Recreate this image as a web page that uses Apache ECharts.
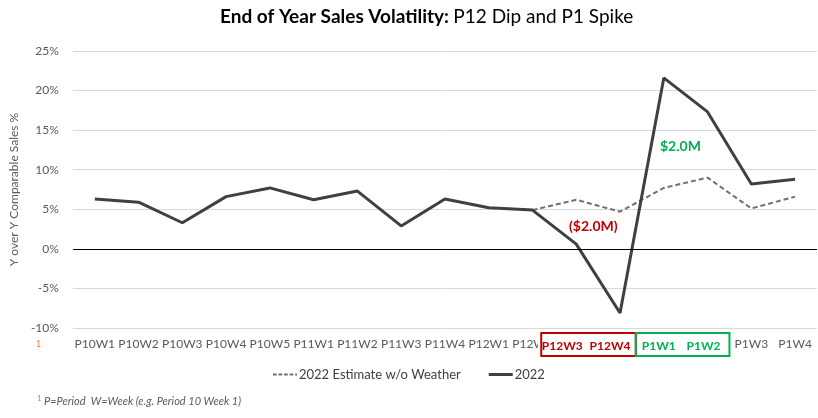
<!DOCTYPE html>
<html><head><meta charset="utf-8">
<script src="https://cdn.jsdelivr.net/npm/echarts@6/dist/echarts.min.js"></script>
<style>html,body{margin:0;padding:0;background:#fff}#c{width:818px;height:418px}</style>
</head><body><div id="c"></div>
<script>
const categories = ['P10W1','P10W2','P10W3','P10W4','P10W5','P11W1','P11W2','P11W3','P11W4','P12W1','P12W2','P12W3','P12W4','P1W1','P1W2','P1W3','P1W4'];
const actual2022 = [6.3, 5.9, 3.3, 6.6, 7.7, 6.2, 7.3, 2.9, 6.3, 5.2, 4.9, 0.6, -8.1, 21.6, 17.3, 8.2, 8.8];
const estimateNoWeather = ['-','-','-','-','-','-','-','-','-','-', 4.9, 6.2, 4.7, 7.7, 9.0, 5.1, 6.6];
const yTicks = {min: -10, max: 25, interval: 5};
const redCats = ['P12W3','P12W4'];
const greenCats = ['P1W1','P1W2'];

const FONT = 'Lato, "Open Sans", sans-serif';
// [left, right] padding per boxed label (shifts the text left like the reference)
const labelPad = {P12W3: [4, 32], P12W4: [1, 21], P1W1: [2, 12], P1W2: [2, 10]};
const richStyles = {};
redCats.concat(greenCats).forEach(function (c) {
  richStyles[c] = {color: redCats.indexOf(c) >= 0 ? '#c00000' : '#00b050', fontWeight: 'bold', fontSize: 12,
    fontFamily: FONT, backgroundColor: '#fff', padding: [2, labelPad[c][1], 2, labelPad[c][0]]};
});

const chart = echarts.init(document.getElementById('c'));
chart.setOption({
  animation: false,
  textStyle: {fontFamily: FONT},
  title: {
    left: 215, top: 2,
    text: '{b|End of Year Sales Volatility:} {n|P12 Dip and P1 Spike}',
    textStyle: {rich: {
      b: {fontFamily: FONT, fontSize: 19, fontWeight: 'bold', color: '#000'},
      n: {fontFamily: FONT, fontSize: 19, fontWeight: 'normal', color: '#000'}
    }}
  },
  grid: {left: 71, right: 1, top: 51, bottom: 90},
  legend: {
    bottom: 32, left: 268, itemWidth: 24, itemHeight: 3, itemGap: 28,
    textStyle: {fontFamily: FONT, fontSize: 13, color: '#404040', padding: [0, 0, 0, -3]},
    data: [
      {name: '2022 Estimate w/o Weather', icon: 'path://M0,0h4v2h-4z M6,0h4v2h-4z M12,0h4v2h-4z M18,0h4v2h-4z M24,0h2v2h-2z'},
      {name: '2022', icon: 'rect'}
    ]
  },
  xAxis: {
    type: 'category', data: categories, boundaryGap: true,
    axisLine: {show: false, onZero: false},
    axisTick: {show: false},
    axisLabel: {
      interval: 0, margin: 10, fontFamily: FONT, fontSize: 12, color: '#595959',
      formatter: function (v) {
        if (richStyles[v]) return '{' + v + '|' + v + '}';
        return v;
      },
      rich: richStyles
    }
  },
  yAxis: {
    type: 'value', min: yTicks.min, max: yTicks.max, interval: yTicks.interval,
    name: 'Y over Y Comparable Sales %', nameLocation: 'middle', nameGap: 38, nameRotate: 90,
    nameTextStyle: {fontFamily: FONT, fontSize: 12, color: '#595959'},
    axisLine: {show: false}, axisTick: {show: false},
    axisLabel: {formatter: '{value}%', fontFamily: FONT, fontSize: 12, color: '#595959', margin: 14},
    splitLine: {lineStyle: {color: '#d9d9d9', width: 1}}
  },
  series: [
    {name: '2022 Estimate w/o Weather', type: 'line', data: estimateNoWeather, symbol: 'none',
     lineStyle: {color: '#707070', width: 2, type: [5, 3]}, itemStyle: {color: '#707070'}, z: 2},
    {name: '2022', type: 'line', data: actual2022, symbol: 'none',
     lineStyle: {color: '#404040', width: 3}, itemStyle: {color: '#404040'}, z: 3,
     markLine: {silent: true, symbol: 'none', label: {show: false},
       lineStyle: {color: '#000', width: 1, type: 'solid'}, data: [{yAxis: 0}]}}
  ]
});

const bottomY = chart.convertToPixel({yAxisIndex: 0}, yTicks.min);
const step = chart.convertToPixel({xAxisIndex: 0}, categories[1]) - chart.convertToPixel({xAxisIndex: 0}, categories[0]);
const xr0 = chart.convertToPixel({xAxisIndex: 0}, 'P12W3') - 0.8 * step;
const xr1 = chart.convertToPixel({xAxisIndex: 0}, 'P12W4') + 0.36 * step;
const xg1 = chart.convertToPixel({xAxisIndex: 0}, 'P1W2') + 0.5 * step;
const bt = bottomY + 5;
chart.setOption({
  graphic: [
    {type: 'rect', shape: {x: xr0, y: bt, width: xr1 - xr0, height: 23}, style: {fill: null, stroke: '#c00000', lineWidth: 2}, z: 100},
    {type: 'rect', shape: {x: xr1, y: bt, width: xg1 - xr1, height: 23}, style: {fill: null, stroke: '#00b050', lineWidth: 2}, z: 100},
    {type: 'text', left: 36, top: bottomY + 12, style: {text: '1', fill: '#ed7d31', font: '9px ' + FONT}},
    {type: 'text', left: 569, top: 219, style: {text: '($2.0M)', fill: '#c00000', font: 'bold 14px ' + FONT}},
    {type: 'text', left: 660, top: 139, style: {text: '$2.0M', fill: '#00b050', font: 'bold 14px ' + FONT}},
    {type: 'text', left: 37, top: 394, style: {text: '1', fill: '#ed7d31', font: '8px ' + FONT}},
    {type: 'text', left: 44, top: 396, style: {text: 'P=Period  W=Week (e.g. Period 10 Week 1)', fill: '#595959', font: 'italic 11px ' + FONT}}
  ]
});
</script></body></html>
